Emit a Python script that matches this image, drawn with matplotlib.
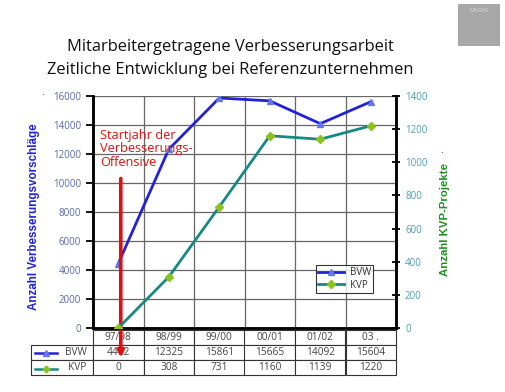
import matplotlib
matplotlib.use("Agg")
import matplotlib.pyplot as plt
from matplotlib.table import Table
from matplotlib.patches import Rectangle

categories = ["97/98", "98/99", "99/00", "00/01", "01/02", "03 ."]
bvw = [4442, 12325, 15861, 15665, 14092, 15604]
kvp = [0, 308, 731, 1160, 1139, 1220]
left_ticks = list(range(0, 16001, 2000))
right_ticks = list(range(0, 1401, 200))

plt.rcParams['font.family'] = ['Open Sans', 'DejaVu Sans']

BLUE = "#2222d8"
BLUE_M = "#6677e8"
TEAL = "#168a82"
GREEN_M = "#8cc21e"
RED = "#e01010"

fig = plt.figure(figsize=(5.05, 3.92), dpi=100)
ax = fig.add_axes([93/505, 1-328/392, 303/505, 232/392])
ax2 = ax.twinx()

x = list(range(len(categories)))
l1, = ax.plot(x, bvw, color=BLUE, lw=2, marker="^", ms=5, mfc=BLUE_M, mec=BLUE_M, label="BVW", zorder=4)
l2, = ax2.plot(x, kvp, color=TEAL, lw=2, marker="D", ms=4, mfc=GREEN_M, mec=GREEN_M, label="KVP", zorder=4)

ax.set_xlim(-0.5, len(categories) - 0.5)
ax.set_ylim(0, 16000)
ax2.set_ylim(0, 1400)
ax.set_yticks(left_ticks)
ax2.set_yticks(right_ticks)
ax.set_xticks([i + 0.5 for i in range(len(categories) - 1)])
ax.set_xticklabels([])
ax.tick_params(axis="x", length=0)
ax.grid(True, color="#666666", lw=0.9)
ax.tick_params(axis="y", labelsize=7, labelcolor="#5a68a8", direction="out", length=5, width=1.3)
ax2.tick_params(axis="y", labelsize=7, labelcolor="#4aa0b0", direction="inout", length=6, width=1.3)
for a in (ax, ax2):
    a.spines["top"].set_visible(False)
    for s in ("left", "right", "bottom"):
        a.spines[s].set_linewidth(1.8)
        a.spines[s].set_color("black")

ax.set_ylabel("Anzahl Verbesserungsvorschläge", color=BLUE, fontsize=8.4, fontweight="bold",
              family=["Liberation Sans", "DejaVu Sans"])
ax.yaxis.set_label_coords(-0.175, 0.478)
ax2.set_ylabel("Anzahl KVP-Projekte", color="#1f9020", fontsize=8.2, fontweight="bold",
               family=["Liberation Sans", "DejaVu Sans"])
ax2.yaxis.set_label_coords(1.145, 0.466)
fig.text(43/505, 1-95/392, ".", color="#5a68a8", fontsize=7, ha="center")
fig.text(441/505, 1-150/392, ".", color="#1f9020", fontsize=8, ha="center", rotation=90)

leg = ax2.legend(handles=[l1, l2], loc="lower left", bbox_to_anchor=(0.736, 0.151),
                 borderaxespad=0, fontsize=7, frameon=True, fancybox=False, edgecolor="black",
                 handlelength=2.6, borderpad=0.25, labelspacing=0.15, handletextpad=0.6)
leg.get_frame().set_linewidth(0.8)
for t in leg.get_texts():
    t.set_color("#333333")

# Annotation
ax.text(-0.36, 13750, "Startjahr der\nVerbesserungs-\nOffensive", color=RED, fontsize=9.2,
        va="top", ha="left", linespacing=1.05, zorder=5)
ax.annotate("", xy=(0.05, -0.14), xycoords=("data", "axes fraction"),
            xytext=(0.05, 10500), textcoords="data",
            arrowprops=dict(arrowstyle="-|>", color=RED, lw=2.6, mutation_scale=9),
            zorder=6, annotation_clip=False)

# Data table
tbl = Table(ax, bbox=[0, -47/232, 1, 45/232])
cw = 1.0 / len(categories)
rlw = 62 / 303
h = 1.0
for j, c in enumerate(categories):
    cell = tbl.add_cell(0, j, width=cw, height=h, text=c, loc="center")
    cell.get_text().set_color("#444444")
for i, (name, vals) in enumerate([("BVW", bvw), ("KVP", kvp)], start=1):
    cell = tbl.add_cell(i, -1, width=rlw, height=h, text=name, loc="right")
    cell.get_text().set_color("#444444")
    for j, v in enumerate(vals):
        c = tbl.add_cell(i, j, width=cw, height=h, text=str(v), loc="center")
        c.get_text().set_color("#444444")
tbl.auto_set_font_size(False)
tbl.set_fontsize(7.3)
for cell in tbl.get_celld().values():
    cell.set_linewidth(0.8)
    cell.set_edgecolor("#333333")
ax.add_table(tbl)

# Legend keys in the table
ax.plot([-58/303, -36/303], [-(353-328)/232]*2, color=BLUE, lw=1.8, transform=ax.transAxes, clip_on=False)
ax.plot([-47/303], [-(353-328)/232], color=BLUE_M, marker="^", ms=4, transform=ax.transAxes, clip_on=False)
ax.plot([-58/303, -36/303], [-(369-328)/232]*2, color=TEAL, lw=1.8, transform=ax.transAxes, clip_on=False)
ax.plot([-47/303], [-(369-328)/232], color=GREEN_M, marker="D", ms=3.5, transform=ax.transAxes, clip_on=False)

# Title
fig.text(230/505, 1-47/392, "Mitarbeitergetragene Verbesserungsarbeit", ha="center", va="center", fontsize=11.9, color="#111111")
fig.text(230/505, 1-70/392, "Zeitliche Entwicklung bei Referenzunternehmen", ha="center", va="center", fontsize=11.9, color="#111111")

# Logo box
fig.patches.append(Rectangle((458/505, 1-46/392), 42/505, 42/392, transform=fig.transFigure,
                             facecolor="#a8a8a8", edgecolor="none"))
fig.text(479/505, 1-10/392, "MAGVA", ha="center", va="center", fontsize=4, color="#dddddd")

fig.savefig("out.png", dpi=100)
